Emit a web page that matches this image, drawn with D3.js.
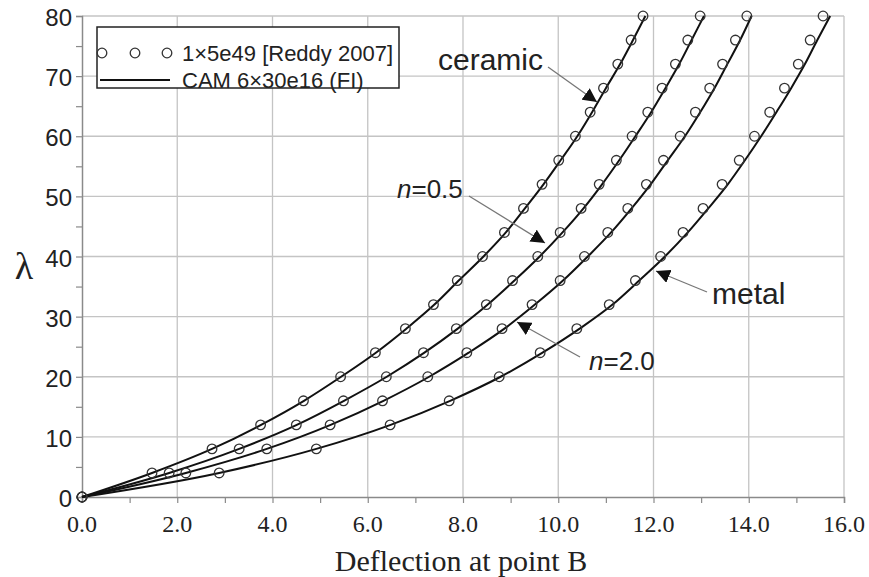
<!DOCTYPE html>
<html><head><meta charset="utf-8">
<script src="https://cdn.jsdelivr.net/npm/d3@7"></script>
<style>body{margin:0;background:#fff}svg{display:block}</style>
</head><body><svg id="c" width="869" height="577"></svg>
<script>
// load parameter lambda (every 4)
const lambdas = [0,4,8,12,16,20,24,28,32,36,40,44,48,52,56,60,64,68,72,76,80];
// 1x5e49 [Reddy 2007] points (deflection)
const ceramicRef = [0,1.47,2.73,3.75,4.65,5.43,6.16,6.79,7.38,7.88,8.41,8.87,9.27,9.66,10.01,10.36,10.67,10.95,11.25,11.53,11.78];
const n05Ref     = [0,1.83,3.30,4.50,5.49,6.39,7.17,7.86,8.49,9.04,9.57,10.04,10.48,10.86,11.22,11.55,11.88,12.18,12.46,12.72,12.98];
const n20Ref     = [0,2.18,3.88,5.21,6.31,7.26,8.08,8.82,9.45,10.04,10.55,11.04,11.46,11.85,12.21,12.56,12.88,13.18,13.45,13.72,13.96];
const metalRef   = [0,2.88,4.92,6.47,7.71,8.76,9.62,10.39,11.07,11.62,12.15,12.62,13.04,13.44,13.80,14.12,14.44,14.75,15.04,15.29,15.56];
// CAM 6x30e16 (FI) curves
const ceramicCAM = [0,1.47,2.73,3.76,4.66,5.44,6.17,6.81,7.40,7.91,8.43,8.90,9.30,9.69,10.05,10.40,10.71,11.00,11.30,11.57,11.83];
const n05CAM     = [0,1.83,3.30,4.51,5.50,6.40,7.19,7.89,8.52,9.08,9.61,10.09,10.53,10.92,11.28,11.62,11.95,12.25,12.54,12.80,13.06];
const n20CAM     = [0,2.18,3.88,5.22,6.33,7.29,8.12,8.87,9.51,10.10,10.62,11.11,11.54,11.94,12.30,12.66,12.98,13.28,13.55,13.82,14.06];
const metalCAM   = [0,2.88,4.92,6.48,7.73,8.79,9.67,10.45,11.14,11.70,12.24,12.72,13.15,13.56,13.92,14.26,14.58,14.89,15.18,15.44,15.71];
const xTicks = [0,2,4,6,8,10,12,14,16];
const yTicks = [0,10,20,30,40,50,60,70,80];
const legendLabels = ["1\u00d75e49 [Reddy 2007]", "CAM 6\u00d730e16 (FI)"];

const svg = d3.select("#c");
const L=82, R=844, T=16, B=497;
const x = d3.scaleLinear().domain([0,16]).range([L,R]);
const y = d3.scaleLinear().domain([0,80]).range([B,T]);

// grid
svg.append("g").selectAll("line").data(xTicks.slice(1)).join("line")
  .attr("x1",d=>x(d)).attr("x2",d=>x(d)).attr("y1",T).attr("y2",B)
  .attr("stroke","#c4c4c4").attr("stroke-width",1.3);
svg.append("g").selectAll("line").data(yTicks.slice(1)).join("line")
  .attr("x1",L).attr("x2",R).attr("y1",d=>y(d)).attr("y2",d=>y(d))
  .attr("stroke","#c4c4c4").attr("stroke-width",1.3);

// axes
const xa = svg.append("g").attr("transform",`translate(0,${B})`)
  .call(d3.axisBottom(x).tickValues(d3.range(0,17,1)).tickSize(6).tickFormat(""));
const ya = svg.append("g").attr("transform",`translate(${L},0)`)
  .call(d3.axisLeft(y).tickValues(d3.range(0,81,5)).tickSize(6).tickFormat(""));
[xa,ya].forEach(a=>{a.select(".domain").attr("stroke","#8a8a8a").attr("stroke-width",1.5);
  a.selectAll(".tick line").attr("stroke","#8a8a8a").attr("stroke-width",1.2);});

svg.append("g").selectAll("text").data(xTicks).join("text")
  .attr("x",d=>x(d)).attr("y",B+35).attr("text-anchor","middle")
  .attr("font-family","Liberation Serif").attr("font-size",24).attr("fill","#222")
  .text(d=>d3.format(".1f")(d));
svg.append("g").selectAll("text").data(yTicks).join("text")
  .attr("x",L-10).attr("y",d=>y(d)+10).attr("text-anchor","end")
  .attr("font-family","Liberation Sans").attr("font-size",24).attr("fill","#222")
  .text(d=>d);

svg.append("text").attr("x",461).attr("y",571).attr("text-anchor","middle")
  .attr("font-family","Liberation Serif").attr("font-size",30).attr("fill","#222")
  .text("Deflection at point B");
svg.append("text").attr("x",24).attr("y",279).attr("text-anchor","middle")
  .attr("font-family","Liberation Serif").attr("font-size",38).attr("fill","#222")
  .text("\u03bb");

// curves
const line = d3.line().x(d=>x(d[0])).y(d=>y(d[1])).curve(d3.curveMonotoneX);
[ceramicCAM,n05CAM,n20CAM,metalCAM].forEach(s=>{
  svg.append("path").attr("d",line(s.map((v,i)=>[v,lambdas[i]])))
    .attr("fill","none").attr("stroke","#111").attr("stroke-width",2);
});
[ceramicRef,n05Ref,n20Ref,metalRef].forEach(s=>{
  svg.append("g").selectAll("circle").data(s.map((v,i)=>[v,lambdas[i]])).join("circle")
    .attr("cx",d=>x(d[0])).attr("cy",d=>y(d[1])).attr("r",4.8)
    .attr("fill","none").attr("stroke","#333").attr("stroke-width",1.3);
});

// legend
const lg = svg.append("g");
lg.append("rect").attr("x",97).attr("y",27).attr("width",302).attr("height",61)
  .attr("fill","#fff").attr("stroke","#222").attr("stroke-width",1.5);
[102,135,167].forEach(cx=>lg.append("circle").attr("cx",cx).attr("cy",53).attr("r",4.8)
  .attr("fill","none").attr("stroke","#333").attr("stroke-width",1.3));
lg.append("line").attr("x1",100).attr("x2",170).attr("y1",80).attr("y2",80)
  .attr("stroke","#111").attr("stroke-width",2);
lg.selectAll("text").data(legendLabels).join("text")
  .attr("x",182).attr("y",(d,i)=>61+i*27)
  .attr("font-family","Liberation Sans").attr("font-size",22).attr("fill","#222").text(d=>d);

// annotations
svg.append("defs").append("marker").attr("id","ah").attr("viewBox","0 0 10 10")
  .attr("refX",10).attr("refY",5).attr("markerWidth",14).attr("markerHeight",14)
  .attr("markerUnits","userSpaceOnUse").attr("orient","auto")
  .append("path").attr("d","M0,0L10,5L0,10z").attr("fill","#111");
const ann = [
  {t:"ceramic", it:false, fs:30, tx:438, ty:70, x1:548, y1:67, x2:597, y2:102},
  {t:"=0.5", it:true, fs:26, tx:397, ty:198, x1:469, y1:196, x2:545, y2:243},
  {t:"=2.0", it:true, fs:26, tx:589, ty:370, x1:580, y1:357, x2:517, y2:322},
  {t:"metal", it:false, fs:30, tx:712, ty:304, x1:707, y1:292, x2:656, y2:271}
];
ann.forEach(a=>{
  svg.append("line").attr("x1",a.x1).attr("y1",a.y1).attr("x2",a.x2).attr("y2",a.y2)
    .attr("stroke","#777").attr("stroke-width",1.3).attr("marker-end","url(#ah)");
  const t = svg.append("text").attr("x",a.tx).attr("y",a.ty)
    .attr("font-family","Liberation Sans").attr("font-size",a.fs).attr("fill","#222");
  if(a.it){ t.append("tspan").attr("font-style","italic").text("n"); t.append("tspan").text(a.t); }
  else t.text(a.t);
});
</script></body></html>
